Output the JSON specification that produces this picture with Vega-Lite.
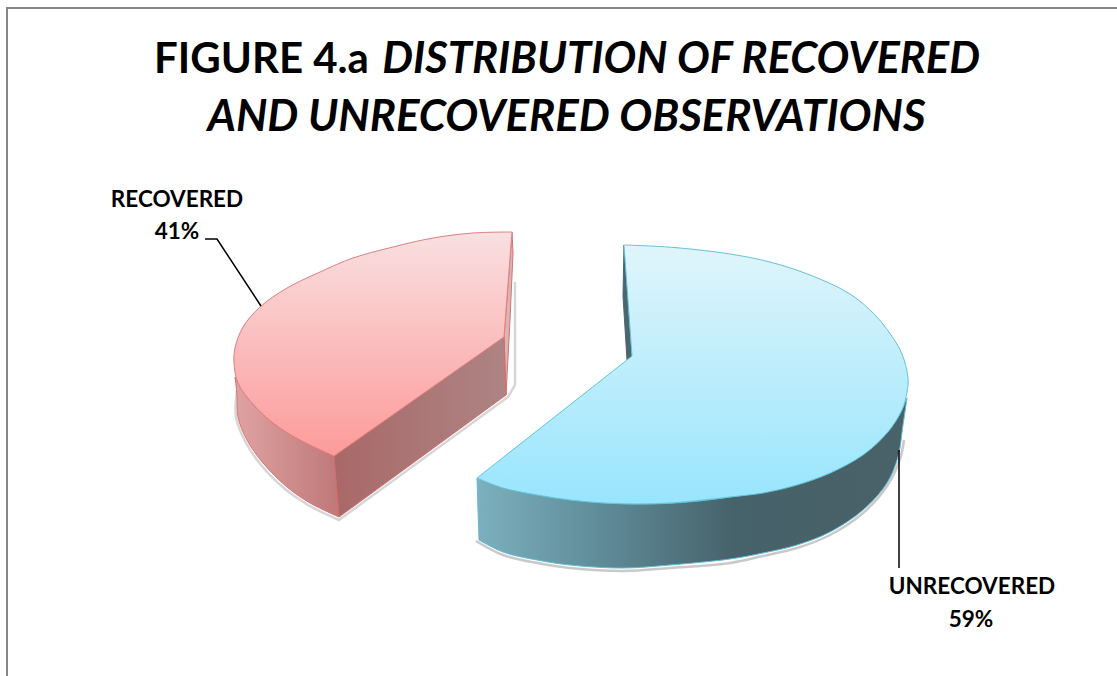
{
"$schema":"https://vega.github.io/schema/vega-lite/v6.json",
"width":1117,"height":676,"padding":0,
"autosize":{"type":"none"},
"background":"white",
"config":{"view":{"stroke":null}},
"datasets":{
"outline":[
{"s":"frame","o":1,"x":7,"y":676},{"s":"frame","o":2,"x":7,"y":8},{"s":"frame","o":3,"x":1117,"y":8},
{"s":"redShadow","o":1,"x":237,"y":390},{"s":"redShadow","o":2,"x":236,"y":417},{"s":"redShadow","o":3,"x":245,"y":441},{"s":"redShadow","o":4,"x":261,"y":465},{"s":"redShadow","o":5,"x":285,"y":489},{"s":"redShadow","o":6,"x":308,"y":505},{"s":"redShadow","o":7,"x":339,"y":520},{"s":"redShadow","o":8,"x":339,"y":520},{"s":"redShadow","o":9,"x":508,"y":397},{"s":"redShadow","o":10,"x":508,"y":397},{"s":"redShadow","o":11,"x":515,"y":385},{"s":"redShadow","o":12,"x":515,"y":385},{"s":"redShadow","o":13,"x":515,"y":282},{"s":"redShadow","o":14,"x":515,"y":282},
{"s":"blueShadow","o":1,"x":476,"y":541},{"s":"blueShadow","o":2,"x":503,"y":555},{"s":"blueShadow","o":3,"x":537,"y":563},{"s":"blueShadow","o":4,"x":570,"y":568},{"s":"blueShadow","o":5,"x":623,"y":571},{"s":"blueShadow","o":6,"x":670,"y":568},{"s":"blueShadow","o":7,"x":730,"y":563},{"s":"blueShadow","o":8,"x":763,"y":556},{"s":"blueShadow","o":9,"x":797,"y":548},{"s":"blueShadow","o":10,"x":830,"y":535},{"s":"blueShadow","o":11,"x":863,"y":513},{"s":"blueShadow","o":12,"x":887,"y":486},{"s":"blueShadow","o":13,"x":900,"y":459},{"s":"blueShadow","o":14,"x":904,"y":440},
{"s":"redBack","o":1,"x":512,"y":232},{"s":"redBack","o":2,"x":513,"y":253},{"s":"redBack","o":3,"x":510,"y":320},{"s":"redBack","o":4,"x":506,"y":395},{"s":"redBack","o":5,"x":504,"y":337},{"s":"redBack","o":6,"x":512,"y":232},
{"s":"redSide","o":1,"x":235,"y":377},{"s":"redSide","o":2,"x":235,"y":377},{"s":"redSide","o":3,"x":237,"y":395},{"s":"redSide","o":4,"x":238,"y":417},{"s":"redSide","o":5,"x":247,"y":440},{"s":"redSide","o":6,"x":263,"y":463},{"s":"redSide","o":7,"x":287,"y":487},{"s":"redSide","o":8,"x":310,"y":503},{"s":"redSide","o":9,"x":339,"y":517},{"s":"redSide","o":10,"x":339,"y":517},{"s":"redSide","o":11,"x":334,"y":456},{"s":"redSide","o":12,"x":334,"y":456},{"s":"redSide","o":13,"x":300,"y":440},{"s":"redSide","o":14,"x":273,"y":423},{"s":"redSide","o":15,"x":252,"y":403},{"s":"redSide","o":16,"x":238,"y":383},{"s":"redSide","o":17,"x":235,"y":377},{"s":"redSide","o":18,"x":235,"y":377},
{"s":"redWall","o":1,"x":334,"y":456},{"s":"redWall","o":2,"x":504,"y":337},{"s":"redWall","o":3,"x":506,"y":395},{"s":"redWall","o":4,"x":339,"y":517},{"s":"redWall","o":5,"x":334,"y":456},
{"s":"redTop","o":1,"x":512,"y":232},{"s":"redTop","o":2,"x":512,"y":232},{"s":"redTop","o":3,"x":473,"y":233},{"s":"redTop","o":4,"x":433,"y":238},{"s":"redTop","o":5,"x":393,"y":247},{"s":"redTop","o":6,"x":353,"y":258},{"s":"redTop","o":7,"x":320,"y":272},{"s":"redTop","o":8,"x":287,"y":288},{"s":"redTop","o":9,"x":260,"y":307},{"s":"redTop","o":10,"x":243,"y":327},{"s":"redTop","o":11,"x":235,"y":348},{"s":"redTop","o":12,"x":234,"y":363},{"s":"redTop","o":13,"x":238,"y":383},{"s":"redTop","o":14,"x":252,"y":403},{"s":"redTop","o":15,"x":273,"y":423},{"s":"redTop","o":16,"x":300,"y":440},{"s":"redTop","o":17,"x":334,"y":456},{"s":"redTop","o":18,"x":334,"y":456},{"s":"redTop","o":19,"x":504,"y":337},{"s":"redTop","o":20,"x":504,"y":337},{"s":"redTop","o":21,"x":512,"y":232},{"s":"redTop","o":22,"x":512,"y":232},
{"s":"blueBack","o":1,"x":624,"y":245},{"s":"blueBack","o":2,"x":632,"y":356},{"s":"blueBack","o":3,"x":627,"y":360},{"s":"blueBack","o":4,"x":623,"y":296},{"s":"blueBack","o":5,"x":624,"y":245},
{"s":"blueSide","o":1,"x":477,"y":478},{"s":"blueSide","o":2,"x":477,"y":478},{"s":"blueSide","o":3,"x":479,"y":540},{"s":"blueSide","o":4,"x":479,"y":540},{"s":"blueSide","o":5,"x":503,"y":552},{"s":"blueSide","o":6,"x":537,"y":560},{"s":"blueSide","o":7,"x":570,"y":565},{"s":"blueSide","o":8,"x":623,"y":568},{"s":"blueSide","o":9,"x":670,"y":565},{"s":"blueSide","o":10,"x":730,"y":559},{"s":"blueSide","o":11,"x":763,"y":553},{"s":"blueSide","o":12,"x":797,"y":545},{"s":"blueSide","o":13,"x":830,"y":532},{"s":"blueSide","o":14,"x":863,"y":510},{"s":"blueSide","o":15,"x":887,"y":483},{"s":"blueSide","o":16,"x":898,"y":457},{"s":"blueSide","o":17,"x":903,"y":425},{"s":"blueSide","o":18,"x":907,"y":398},{"s":"blueSide","o":19,"x":907,"y":398},{"s":"blueSide","o":20,"x":887,"y":433},{"s":"blueSide","o":21,"x":830,"y":473},{"s":"blueSide","o":22,"x":730,"y":497},{"s":"blueSide","o":23,"x":637,"y":504},{"s":"blueSide","o":24,"x":537,"y":495},{"s":"blueSide","o":25,"x":477,"y":478},{"s":"blueSide","o":26,"x":477,"y":478},
{"s":"blueTop","o":1,"x":624,"y":245},{"s":"blueTop","o":2,"x":624,"y":245},{"s":"blueTop","o":3,"x":650,"y":246},{"s":"blueTop","o":4,"x":680,"y":248},{"s":"blueTop","o":5,"x":730,"y":254},{"s":"blueTop","o":6,"x":770,"y":262},{"s":"blueTop","o":7,"x":810,"y":275},{"s":"blueTop","o":8,"x":850,"y":294},{"s":"blueTop","o":9,"x":875,"y":315},{"s":"blueTop","o":10,"x":891,"y":335},{"s":"blueTop","o":11,"x":902,"y":354},{"s":"blueTop","o":12,"x":908,"y":378},{"s":"blueTop","o":13,"x":907,"y":392},{"s":"blueTop","o":14,"x":902,"y":410},{"s":"blueTop","o":15,"x":887,"y":433},{"s":"blueTop","o":16,"x":863,"y":455},{"s":"blueTop","o":17,"x":830,"y":473},{"s":"blueTop","o":18,"x":797,"y":485},{"s":"blueTop","o":19,"x":763,"y":493},{"s":"blueTop","o":20,"x":730,"y":497},{"s":"blueTop","o":21,"x":703,"y":500},{"s":"blueTop","o":22,"x":670,"y":503},{"s":"blueTop","o":23,"x":637,"y":504},{"s":"blueTop","o":24,"x":603,"y":503},{"s":"blueTop","o":25,"x":570,"y":500},{"s":"blueTop","o":26,"x":537,"y":495},{"s":"blueTop","o":27,"x":503,"y":488},{"s":"blueTop","o":28,"x":477,"y":478},{"s":"blueTop","o":29,"x":477,"y":478},{"s":"blueTop","o":30,"x":627,"y":360},{"s":"blueTop","o":31,"x":627,"y":360},{"s":"blueTop","o":32,"x":632,"y":356},{"s":"blueTop","o":33,"x":632,"y":356},{"s":"blueTop","o":34,"x":624,"y":245},{"s":"blueTop","o":35,"x":624,"y":245},
{"s":"leaderRed","o":1,"x":205,"y":239},{"s":"leaderRed","o":2,"x":217,"y":239},{"s":"leaderRed","o":3,"x":261,"y":306},
{"s":"leaderBlue","o":1,"x":899,"y":450},{"s":"leaderBlue","o":2,"x":899,"y":568}
],
"titles":[
{"text":"FIGURE 4.a","x":154,"y":73,"kind":"upright"},
{"text":"DISTRIBUTION OF RECOVERED","x":980,"y":73,"kind":"italicRight"},
{"text":"AND UNRECOVERED OBSERVATIONS","x":566.5,"y":131,"kind":"italicCenter"}
],
"labels":[
{"text":"RECOVERED","x":177,"y":207},{"text":"41%","x":177,"y":239},{"text":"UNRECOVERED","x":972,"y":594},{"text":"59%","x":971,"y":627}
]
},
"encoding":{
"x":{"field":"x","type":"quantitative","scale":{"domain":[0,1117],"zero":false,"nice":false},"axis":null},
"y":{"field":"y","type":"quantitative","scale":{"domain":[676,0],"zero":false,"nice":false},"axis":null}
},
"layer":[
{"data":{"name":"outline"},"transform":[{"filter":"datum.s==='frame'"}],"mark":{"type":"line","stroke":"#868686","strokeWidth":2},"encoding":{"order":{"field":"o"}}},
{"data":{"name":"outline"},"transform":[{"filter":"datum.s==='redShadow'"}],"mark":{"type":"line","interpolate":"catmull-rom","stroke":"#999999","strokeWidth":2.5,"opacity":0.4},"encoding":{"order":{"field":"o"}}},
{"data":{"name":"outline"},"transform":[{"filter":"datum.s==='blueShadow'"}],"mark":{"type":"line","interpolate":"catmull-rom","stroke":"#777777","strokeWidth":2.5,"opacity":0.4},"encoding":{"order":{"field":"o"}}},
{"data":{"name":"outline"},"transform":[{"filter":"datum.s==='redBack'"}],"mark":{"type":"line","fill":"#dcb4b4","stroke":"#d87070","strokeWidth":1},"encoding":{"order":{"field":"o"}}},
{"data":{"name":"outline"},"transform":[{"filter":"datum.s==='redSide'"}],"mark":{"type":"line","interpolate":"catmull-rom","stroke":"#d87070","strokeWidth":1,"fill":{"gradient":"linear","x1":0,"y1":0,"x2":1,"y2":0,"stops":[{"offset":0,"color":"#dfa3a3"},{"offset":1,"color":"#bf7878"}]}},"encoding":{"order":{"field":"o"}}},
{"data":{"name":"outline"},"transform":[{"filter":"datum.s==='redWall'"}],"mark":{"type":"line","stroke":"#d86a6a","strokeWidth":1,"fill":{"gradient":"linear","x1":0,"y1":0,"x2":1,"y2":0,"stops":[{"offset":0,"color":"#a96868"},{"offset":1,"color":"#ae8484"}]}},"encoding":{"order":{"field":"o"}}},
{"data":{"name":"outline"},"transform":[{"filter":"datum.s==='redTop'"}],"mark":{"type":"line","interpolate":"catmull-rom","stroke":"#e07e7e","strokeWidth":1,"fill":{"gradient":"linear","x1":0,"y1":0,"x2":0,"y2":1,"stops":[{"offset":0,"color":"#f9e0e1"},{"offset":1,"color":"#fd9a9a"}]}},"encoding":{"order":{"field":"o"}}},
{"data":{"name":"outline"},"transform":[{"filter":"datum.s==='blueBack'"}],"mark":{"type":"line","fill":"#4b666e","stroke":"#4b666e","strokeWidth":1},"encoding":{"order":{"field":"o"}}},
{"data":{"name":"outline"},"transform":[{"filter":"datum.s==='blueSide'"}],"mark":{"type":"line","interpolate":"catmull-rom","stroke":"#5cbcd4","strokeWidth":1,"fill":{"gradient":"linear","x1":0,"y1":0,"x2":1,"y2":0,"stops":[{"offset":0,"color":"#7cb0be"},{"offset":0.3,"color":"#5e8a97"},{"offset":0.6,"color":"#46626a"},{"offset":1,"color":"#4a6168"}]}},"encoding":{"order":{"field":"o"}}},
{"data":{"name":"outline"},"transform":[{"filter":"datum.s==='blueTop'"}],"mark":{"type":"line","interpolate":"catmull-rom","stroke":"#62c3da","strokeWidth":1,"fill":{"gradient":"linear","x1":0,"y1":0,"x2":0,"y2":1,"stops":[{"offset":0,"color":"#e0f5fb"},{"offset":1,"color":"#98e5fd"}]}},"encoding":{"order":{"field":"o"}}},
{"data":{"name":"outline"},"transform":[{"filter":"datum.s==='leaderRed'"}],"mark":{"type":"line","stroke":"#000000","strokeWidth":1.5},"encoding":{"order":{"field":"o"}}},
{"data":{"name":"outline"},"transform":[{"filter":"datum.s==='leaderBlue'"}],"mark":{"type":"line","stroke":"#000000","strokeWidth":1.5},"encoding":{"order":{"field":"o"}}},
{"data":{"name":"titles"},"transform":[{"filter":"datum.kind==='upright'"}],"mark":{"type":"text","font":"Lato","fontWeight":"bold","fontSize":42,"align":"left","baseline":"alphabetic","fill":"#000000"},"encoding":{"text":{"field":"text"}}},
{"data":{"name":"titles"},"transform":[{"filter":"datum.kind==='italicRight'"}],"mark":{"type":"text","font":"Lato","fontWeight":"bold","fontStyle":"italic","fontSize":43.5,"align":"right","baseline":"alphabetic","fill":"#000000"},"encoding":{"text":{"field":"text"}}},
{"data":{"name":"titles"},"transform":[{"filter":"datum.kind==='italicCenter'"}],"mark":{"type":"text","font":"Lato","fontWeight":"bold","fontStyle":"italic","fontSize":43.8,"align":"center","baseline":"alphabetic","fill":"#000000"},"encoding":{"text":{"field":"text"}}},
{"data":{"name":"labels"},"mark":{"type":"text","font":"Lato","fontWeight":"bold","fontSize":22.5,"align":"center","baseline":"alphabetic","fill":"#000000"},"encoding":{"text":{"field":"text"}}}
]
}
